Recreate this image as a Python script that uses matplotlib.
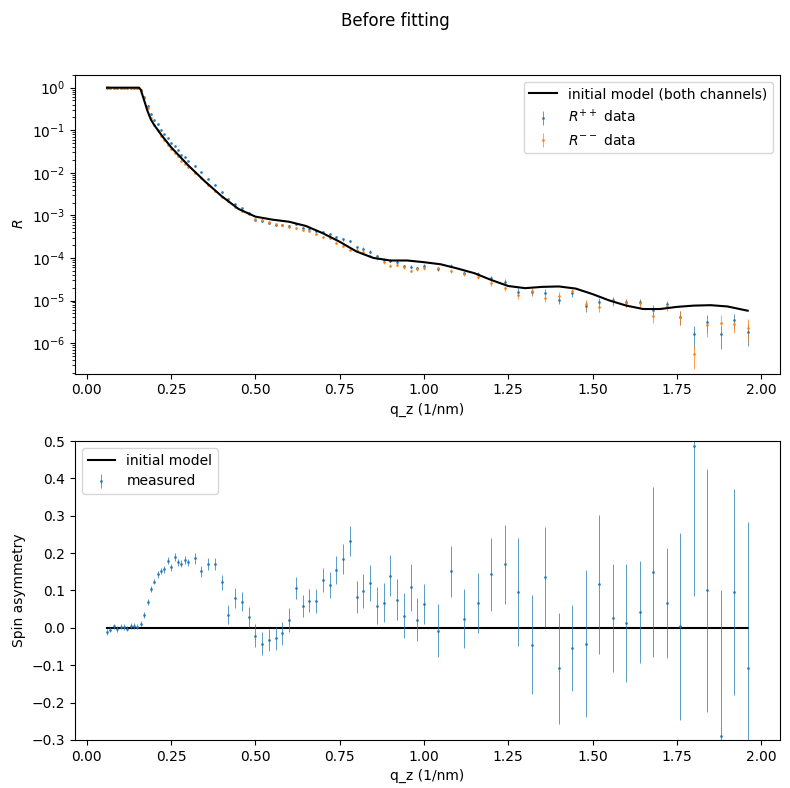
import numpy as np
import matplotlib
matplotlib.use('Agg')
import matplotlib.pyplot as plt

# measured q points (1/nm)
q = np.array([0.06, 0.07, 0.08, 0.09, 0.10, 0.11, 0.12, 0.13, 0.14, 0.15, 0.16, 0.17, 0.18,
              0.19, 0.20, 0.21, 0.22, 0.23, 0.24, 0.25, 0.26, 0.27, 0.28, 0.29, 0.30,
              0.32, 0.34, 0.36, 0.38, 0.40, 0.42, 0.44, 0.46, 0.48, 0.50, 0.52, 0.54,
              0.56, 0.58, 0.60, 0.62, 0.64, 0.66, 0.68, 0.70, 0.72, 0.74, 0.76, 0.78,
              0.80, 0.82, 0.84, 0.86, 0.88, 0.90, 0.92, 0.94, 0.96, 0.98, 1.00,
              1.04, 1.08, 1.12, 1.16, 1.20, 1.24, 1.28, 1.32, 1.36, 1.40, 1.44, 1.48,
              1.52, 1.56, 1.60, 1.64, 1.68, 1.72, 1.76, 1.80, 1.84, 1.88, 1.92, 1.96])

# log10 of mean reflectivity of the two channels
log_r_mean = np.array([0, 0, 0, 0, 0, 0, 0, 0, 0, 0, -0.05, -0.23, -0.45,
                       -0.66, -0.82, -0.92, -1.06, -1.16, -1.25, -1.37, -1.45, -1.53, -1.64, -1.71, -1.79,
                       -1.91, -2.05, -2.21, -2.35, -2.51, -2.64, -2.77, -2.86, -2.96, -3.09, -3.12, -3.16,
                       -3.21, -3.23, -3.26, -3.25, -3.32, -3.34, -3.40, -3.44, -3.48, -3.58, -3.64, -3.70,
                       -3.78, -3.82, -3.90, -3.98, -4.07, -4.12, -4.13, -4.21, -4.25, -4.25, -4.21,
                       -4.25, -4.24, -4.37, -4.41, -4.53, -4.63, -4.83, -4.79, -4.87, -4.93, -4.81, -5.11,
                       -5.09, -5.01, -5.05, -5.05, -5.29, -5.11, -5.38, -5.96, -5.54, -5.64, -5.50, -5.68])

# spin asymmetry and its uncertainty
sa = np.array([-0.011, -0.005, 0.004, -0.003, 0.003, 0.002, -0.002, 0.005, 0.005, 0.003, 0.011, 0.035, 0.07,
               0.105, 0.124, 0.143, 0.152, 0.157, 0.18, 0.162, 0.189, 0.175, 0.172, 0.182, 0.175,
               0.186, 0.151, 0.171, 0.171, 0.122, 0.035, 0.08, 0.07, 0.029, -0.021, -0.042, -0.032,
               -0.028, -0.015, 0.022, 0.106, 0.059, 0.073, 0.073, 0.128, 0.114, 0.154, 0.184, 0.233,
               0.083, 0.099, 0.12, 0.059, 0.067, 0.14, 0.075, 0.032, 0.109, 0.022, 0.064,
               -0.008, 0.151, 0.025, 0.067, 0.143, 0.17, 0.096, -0.045, 0.136, -0.108, -0.053, -0.042,
               0.116, 0.026, 0.013, 0.042, 0.149, 0.066, 0.004, 0.486, 0.10, -0.29, 0.095, -0.108])
sa_err = np.array([0.007, 0.007, 0.007, 0.007, 0.007, 0.007, 0.007, 0.007, 0.007, 0.007, 0.007, 0.008, 0.008,
                   0.008, 0.008, 0.009, 0.009, 0.009, 0.009, 0.01, 0.01, 0.01, 0.01, 0.01, 0.01,
                   0.014, 0.015, 0.016, 0.017, 0.02, 0.025, 0.026, 0.026, 0.027, 0.03, 0.03, 0.03,
                   0.03, 0.03, 0.032, 0.03, 0.03, 0.03, 0.032, 0.033, 0.035, 0.038, 0.04, 0.04,
                   0.042, 0.045, 0.047, 0.05, 0.052, 0.055, 0.055, 0.06, 0.063, 0.058, 0.053,
                   0.071, 0.068, 0.079, 0.081, 0.098, 0.106, 0.145, 0.132, 0.135, 0.149, 0.115, 0.197,
                   0.186, 0.145, 0.157, 0.137, 0.228, 0.148, 0.25, 0.40, 0.324, 0.39, 0.276, 0.39])

# initial model curve
q_model = np.array([0.06, 0.155, 0.16, 0.17, 0.18, 0.19, 0.20, 0.22, 0.25, 0.30, 0.35, 0.40, 0.45,
                    0.50, 0.55, 0.60, 0.65, 0.70, 0.75, 0.80, 0.85, 0.90, 0.95, 1.00, 1.05, 1.10,
                    1.15, 1.20, 1.25, 1.30, 1.35, 1.40, 1.45, 1.50, 1.55, 1.60, 1.65, 1.70, 1.75,
                    1.80, 1.85, 1.90, 1.96])
log_r_model = np.array([0, 0, -0.05, -0.3, -0.55, -0.75, -0.88, -1.1, -1.4, -1.82, -2.2, -2.55, -2.85,
                        -3.03, -3.1, -3.15, -3.25, -3.42, -3.62, -3.85, -4.0, -4.06, -4.06, -4.1, -4.15, -4.25,
                        -4.36, -4.52, -4.66, -4.71, -4.68, -4.67, -4.72, -4.85, -5.0, -5.12, -5.2, -5.2, -5.15,
                        -5.12, -5.11, -5.14, -5.24])

r_mean = 10 ** log_r_mean
r_pp = r_mean * (1 + sa)
r_mm = r_mean * (1 - sa)
err_pp = r_pp * sa_err * 1.4
err_mm = r_mm * sa_err * 1.4

fig, (ax1, ax2) = plt.subplots(2, 1, figsize=(7.9, 7.88), dpi=100)
fig.suptitle('Before fitting', y=0.985)
fig.subplots_adjust(left=0.095, right=0.987, top=0.905, bottom=0.061, hspace=0.225)

ebar = dict(fmt='.', ms=2, elinewidth=0.6, alpha=0.85)

ax1.plot(q_model, 10 ** log_r_model, color='black', label='initial model (both channels)', zorder=3)
ax1.errorbar(q, r_pp, yerr=[np.minimum(err_pp, 0.999 * r_pp), err_pp], color='C0',
             label='$R^{++}$ data', **ebar)
ax1.errorbar(q, r_mm, yerr=[np.minimum(err_mm, 0.999 * r_mm), err_mm], color='C1',
             label='$R^{--}$ data', **ebar)
ax1.set_yscale('log')
ax1.set_ylim(1.9e-7, 2.0)
ax1.set_xlabel('q_z (1/nm)')
ax1.set_ylabel('$R$')
ax1.legend(loc='upper right')

ax2.plot([q[0], q[-1]], [0, 0], color='black', label='initial model')
ax2.errorbar(q, sa, yerr=sa_err, color='C0', label='measured', **ebar)
ax2.set_ylim(-0.3, 0.5)
ax2.set_xlabel('q_z (1/nm)')
ax2.set_ylabel('Spin asymmetry')
ax2.legend(loc='upper left')

fig.savefig('out.png')
